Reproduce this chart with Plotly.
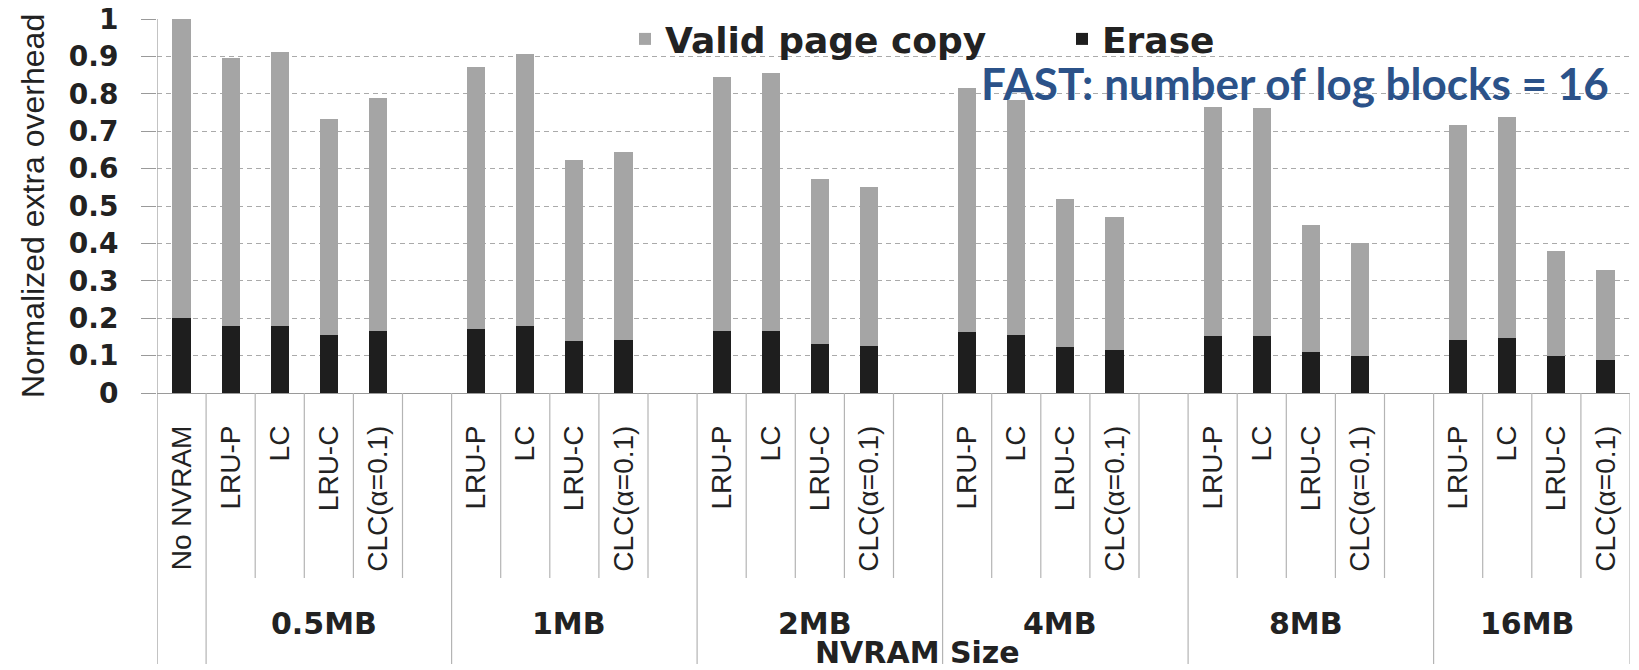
import plotly.graph_objects as go

# Category groups along the x axis (NVRAM size) and the policies in each group.
# An empty string marks a spacer slot with no bar.
group_names = ["", "0.5MB", "1MB", "2MB", "4MB", "8MB", "16MB"]
group_members = [
    ["No NVRAM"],
    ["LRU-P", "LC", "LRU-C", "CLC(α=0.1)", ""],
    ["LRU-P", "LC", "LRU-C", "CLC(α=0.1)", ""],
    ["LRU-P", "LC", "LRU-C", "CLC(α=0.1)", ""],
    ["LRU-P", "LC", "LRU-C", "CLC(α=0.1)", ""],
    ["LRU-P", "LC", "LRU-C", "CLC(α=0.1)", ""],
    ["LRU-P", "LC", "LRU-C", "CLC(α=0.1)"],
]

# Stacked components per bar (one entry per policy, spacer slots excluded)
erase = [
    0.200,
    0.179, 0.180, 0.155, 0.165,
    0.172, 0.179, 0.139, 0.142,
    0.167, 0.167, 0.132, 0.126,
    0.162, 0.155, 0.122, 0.114,
    0.152, 0.152, 0.110, 0.100,
    0.141, 0.147, 0.098, 0.089,
]
valid_copy = [
    0.800,
    0.717, 0.733, 0.577, 0.625,
    0.701, 0.727, 0.484, 0.503,
    0.678, 0.688, 0.439, 0.425,
    0.653, 0.629, 0.397, 0.356,
    0.614, 0.611, 0.338, 0.300,
    0.575, 0.591, 0.282, 0.240,
]

y_ticks = [0, 0.1, 0.2, 0.3, 0.4, 0.5, 0.6, 0.7, 0.8, 0.9, 1]

# Lay the categories out on consecutive integer slots
slot_labels = []
bar_slots = []
group_spans = []
slot = 0
for members in group_members:
    start = slot
    for name in members:
        slot_labels.append(name)
        if name:
            bar_slots.append(slot)
        slot += 1
    group_spans.append((start, slot - 1))
n_slots = slot

GRAY = "#a5a5a5"
BLACK = "#1e1e1e"
LINE = "#b4b4b4"

# Plot area in pixels (used to place paper-referenced labels)
PLOT_L, PLOT_W = 157, 1473
PLOT_B, PLOT_H = 393, 374


def px_x(p):
    return (p - PLOT_L) / PLOT_W


def px_y(p):
    return (PLOT_B - p) / PLOT_H


fig = go.Figure()
fig.add_trace(go.Bar(x=bar_slots, y=erase, name="Erase",
                     marker=dict(color=BLACK, line=dict(width=0)), width=0.37))
fig.add_trace(go.Bar(x=bar_slots, y=valid_copy, name="Valid page copy",
                     marker=dict(color=GRAY, line=dict(width=0)), width=0.37))

# Table-style divider lines under the category axis
TABLE_INNER = px_y(578)
TABLE_OUTER = px_y(664)
group_edges = set()
for s, e in group_spans:
    group_edges.add(s - 0.5)
    group_edges.add(e + 0.5)
shapes = []
for k in range(n_slots + 1):
    b = k - 0.5
    full = b in group_edges
    shapes.append(dict(type="line", xref="x", yref="paper", x0=b, x1=b,
                       y0=1 if b == -0.5 else 0,
                       y1=TABLE_OUTER if full else TABLE_INNER,
                       line=dict(color=LINE if b != -0.5 else "#9a9a9a", width=1.2)))

annotations = []
for name, (s, e) in zip(group_names, group_spans):
    if not name:
        continue
    annotations.append(dict(x=(s + e) / 2 - 0.1, y=px_y(623), xref="x", yref="paper",
                            text=name, showarrow=False, yanchor="middle",
                            font=dict(family="DejaVu Sans", size=30, color="#222",
                                      weight="bold")))
annotations.append(dict(x=px_x(918), y=px_y(652), xref="paper", yref="paper",
                        text="NVRAM Size", showarrow=False, yanchor="middle",
                        font=dict(family="DejaVu Sans", size=30, color="#222",
                                  weight="bold")))
annotations.append(dict(x=px_x(33), y=0.5, xref="paper", yref="paper",
                        text="Normalized extra overhead", showarrow=False,
                        textangle=-90, xanchor="center", yanchor="middle",
                        font=dict(family="Liberation Sans", size=32, color="#222")))
annotations.append(dict(x=px_x(1611), y=px_y(83), xref="paper", yref="paper",
                        text="<b>FAST: number of log blocks = 16</b>", showarrow=False,
                        xanchor="right", yanchor="middle",
                        font=dict(family="Lato", size=44, color="#2b5289")))

fig.update_layout(
    width=1639, height=670,
    margin=dict(l=PLOT_L, r=1639 - PLOT_L - PLOT_W, t=PLOT_B - PLOT_H,
                b=670 - PLOT_B),
    paper_bgcolor="white", plot_bgcolor="white",
    barmode="stack", bargap=0,
    shapes=shapes, annotations=annotations,
    legend=dict(orientation="h", x=px_x(625), xanchor="left", y=px_y(39),
                yanchor="middle", traceorder="reversed", entrywidth=392,
                bgcolor="rgba(0,0,0,0)",
                font=dict(family="DejaVu Sans", size=36, color="#222", weight="bold")),
    xaxis=dict(range=[-0.5, n_slots - 0.5], tickmode="array",
               tickvals=list(range(n_slots)), ticktext=slot_labels,
               tickangle=-90, ticks="", showgrid=False, showline=False,
               zeroline=False, automargin=False, ticklabelstandoff=26,
               tickfont=dict(family="Liberation Sans", size=28, color="#222")),
    yaxis=dict(range=[0, 1], tickmode="array", tickvals=y_ticks,
               ticktext=[f"{v:g}" for v in y_ticks],
               ticks="outside", ticklen=15, tickcolor="#9a9a9a", tickwidth=1,
               showgrid=True, gridcolor="#aaaaaa", griddash="5px,4px", gridwidth=1,
               zeroline=True, zerolinecolor="#9a9a9a", zerolinewidth=1.2,
               showline=False, automargin=False, ticklabelstandoff=17,
               tickfont=dict(family="DejaVu Sans", size=28, color="#222", weight="bold")),
)

fig.write_html("out.html")
